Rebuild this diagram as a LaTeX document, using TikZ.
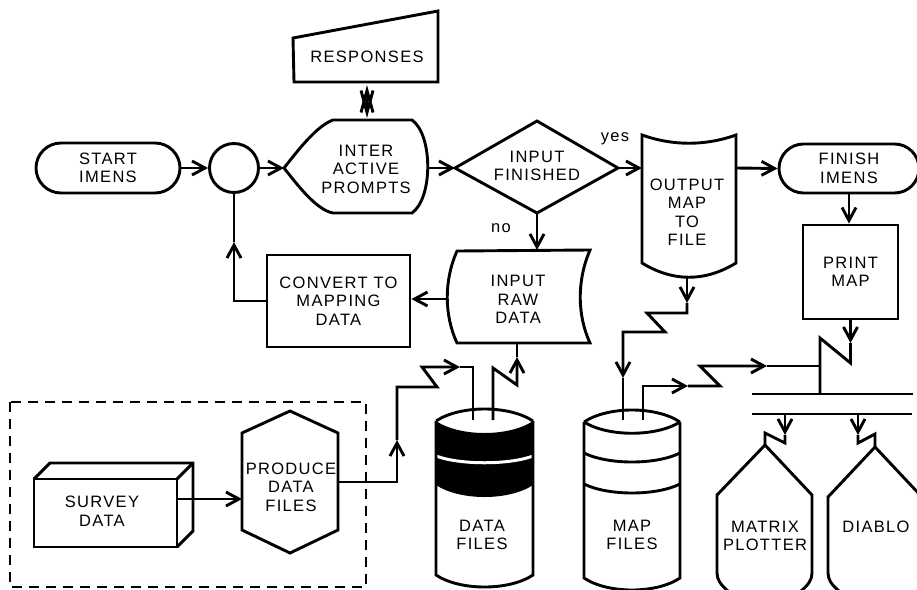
\documentclass[tikz,border=0pt]{standalone}
\usepackage{fontspec}
\setmainfont{Liberation Sans}[LetterSpace=8]
\usetikzlibrary{arrows.meta,shapes.misc}
\begin{document}
\begin{tikzpicture}[x=1pt,y=-1pt,line width=2.9pt,line join=miter,
  every node/.style={inner sep=0pt},
  lbl/.style={align=center,font=\fontsize{16.5}{18.5}\selectfont},
  arr/.style={-{Straight Barb[length=13pt,width=14pt]}},
  dbl/.style={{Straight Barb[length=22pt,width=12pt]}-{Straight Barb[length=22pt,width=12pt]},shorten <=3pt,shorten >=2pt},
  term/.style={draw,rounded rectangle,lbl},
  procbox/.style={draw,rectangle,lbl}]
\useasboundingbox (0,0) rectangle (917,589);

% ---------- terminals, circle, boxes
\node[term,minimum width=144pt,minimum height=50pt] (start) at (108,168) {START\\IMENS};
\node[draw,circle,minimum size=49pt] (circ) at (234,168) {};
\node[term,minimum width=140pt,minimum height=49pt] (finish) at (849,168.5) {FINISH\\IMENS};
\node[procbox,minimum width=95pt,minimum height=94pt] (printbox) at (850.5,272) {PRINT\\MAP};
\node[procbox,minimum width=143pt,minimum height=92pt] (convert) at (338.5,301) {CONVERT TO\\MAPPING\\DATA};

% ---------- responses (manual input)
\draw (294,82) -- (293,38) -- (438,11) -- (438,82) -- cycle;
\node[lbl] (resp) at (367,57) {RESPONSES};
\coordinate (resp-s) at (367,82);

% ---------- interactive prompts (display)
\draw (412,120) .. controls (433,135) and (433,198) .. (412,213) -- (333,213)
      .. controls (316,210) and (296,183) .. (284,168)
      .. controls (296,153) and (316,126) .. (333,120) -- cycle;
\node[lbl] (inter) at (366,169) {INTER\\ACTIVE\\PROMPTS};
\coordinate (inter-w) at (284,168);
\coordinate (inter-e) at (428,168);
\coordinate (inter-n) at (367,120);

% ---------- decision
\draw (455,168) -- (537,121) -- (618,168) -- (537,213) -- cycle;
\node[lbl] (dia) at (537,166) {INPUT\\FINISHED};
\coordinate (dia-w) at (455,168);
\coordinate (dia-e) at (618,168);
\coordinate (dia-s) at (537,213);
\node[lbl] (yes) at (615,139) {yes};
\node[lbl] (no) at (501,228) {no};

% ---------- output map to file (tape)
\draw (642,135) .. controls (673,146) and (705,146) .. (736,135) -- (736,263)
      .. controls (705,282) and (673,282) .. (642,263) -- cycle;
\node[lbl] (out) at (687,212) {OUTPUT\\MAP\\TO\\FILE};
\coordinate (out-w) at (642,168);
\coordinate (out-e) at (736,168);
\coordinate (out-s) at (687,277);

% ---------- input raw data (stored data)
\draw (457,343) .. controls (444,315) and (444,280) .. (457,251) -- (590,250)
      .. controls (577,280) and (577,315) .. (590,343) -- cycle;
\node[lbl] (raw) at (518,299.5) {INPUT\\RAW\\DATA};
\coordinate (raw-n) at (537,250);
\coordinate (raw-w) at (447,299);
\coordinate (raw-s) at (517,343);

% ---------- dashed group
\draw[dash pattern=on 10pt off 7pt,line width=2.5pt] (10,402) rectangle (366,587);

% ---------- survey data (3D box)
\draw (34,479) rectangle (177,547);
\draw (34,479) -- (50,463) -- (193,463) -- (193,531) -- (177,547);
\draw (177,479) -- (193,463);
\node[lbl] (survey) at (102,511) {SURVEY\\DATA};
\coordinate (sv-e) at (177,499);

% ---------- produce data files (hexagon)
\draw (290,411) -- (338,433) -- (338,530) -- (290,553) -- (242,530) -- (242,433) -- cycle;
\node[lbl] (produce) at (291,487) {PRODUCE\\DATA\\FILES};
\coordinate (pr-w) at (242,499);
\coordinate (pr-e) at (338,482);

% ---------- data files cylinder
\fill (436,421) .. controls (460,437) and (509,437) .. (533,421) -- (533,485)
      .. controls (509,501) and (460,501) .. (436,485) -- cycle;
\draw[white,line width=3pt] (436,456) .. controls (460,465) and (509,465) .. (533,456);
\draw (436,421) -- (436,575) .. controls (460,591) and (509,591) .. (533,575) -- (533,421);
\draw (436,421) .. controls (460,405) and (509,405) .. (533,421);
\node[lbl] (datafiles) at (482,535) {DATA\\FILES};
\coordinate (df-a) at (473,420);
\coordinate (df-b) at (493,420);

% ---------- map files cylinder
\draw (584,422) -- (584,578) .. controls (608,594) and (656,594) .. (680,578) -- (680,422);
\draw (584,422) .. controls (608,406) and (656,406) .. (680,422);
\draw (584,422) .. controls (608,437) and (656,437) .. (680,422);
\draw (584,453) .. controls (608,465) and (656,465) .. (680,453);
\draw (584,484) .. controls (608,496) and (656,496) .. (680,484);
\node[lbl] (mapfiles) at (632,535) {MAP\\FILES};
\coordinate (mf-a) at (623,420);
\coordinate (mf-b) at (643,420);

% ---------- plotters
\draw (728,591) .. controls (721,585) and (717,580) .. (717,573) -- (717,495) -- (765,445)
      -- (812,495) -- (812,573) .. controls (812,580) and (808,585) .. (801,591);
\node[lbl] (matrix) at (765,536) {MATRIX\\PLOTTER};
\coordinate (mx-top) at (765,445);
\draw (839,591) .. controls (832,585) and (828,580) .. (828,573) -- (828,497) -- (875,447) -- (922,497);
\node[lbl] (diablo) at (876,527) {DIABLO};
\coordinate (db-top) at (875,447);

% ---------- bus
\coordinate (busA1) at (752,394); \coordinate (busA2) at (913,394);
\coordinate (busB1) at (752,414); \coordinate (busB2) at (912,414);
\draw (busA1) -- (busA2);
\draw (busB1) -- (busB2);

% ---------- connectors
\draw[arr] (start.east) -- (circ.west);
\draw[arr] (circ.east) -- (inter-w);
\draw[arr] (inter-e) -- (dia-w);
\draw[dbl] (resp-s) -- (inter-n);
\draw[arr] (dia-e) -- (out-w);
\draw[arr] (out-e) -- (finish.west);
\draw[arr] (finish.south) -- (finish.south |- printbox.north);
\draw[arr] (dia-s) -- (raw-n);
\draw[arr] (raw-w) -- (convert.east |- raw-w);

\coordinate (cv-m) at (234,242);
\draw[arr] (convert.west) -- (circ.south |- convert.west) -- (cv-m);
\draw (cv-m) -- (circ.south);

\draw[arr] (sv-e) -- (pr-w);

\coordinate (p1) at (397,482); \coordinate (p1m) at (397,440);
\coordinate (p2) at (397,387); \coordinate (p3) at (437,387);
\coordinate (p4) at (422,367); \coordinate (p4m) at (460,367);
\coordinate (p5) at (473,367);
\draw[arr] (pr-e) -- (p1) -- (p1m);
\draw[arr] (p1m) -- (p2) -- (p3) -- (p4) -- (p4m);
\draw (p4m) -- (p5) -- (df-a);

\coordinate (q1) at (493,368); \coordinate (q2) at (517,385); \coordinate (qm) at (517,357);
\draw[arr] (df-b) -- (q1) -- (q2) -- (qm);
\draw (qm) -- (raw-s);

\coordinate (r0m) at (687,303); \coordinate (r1) at (687,313);
\coordinate (r2) at (647,313); \coordinate (r3) at (665,332);
\coordinate (r4) at (623,332); \coordinate (r4m) at (623,378);
\draw[arr] (out-s) -- (r0m);
\draw[arr] (r0m) -- (r1) -- (r2) -- (r3) -- (r4) -- (r4m);
\draw (r4m) -- (mf-a);

\coordinate (s1) at (643,386); \coordinate (s1m) at (688,386);
\coordinate (s2) at (720,386); \coordinate (s3) at (700,366);
\coordinate (s3m) at (767,366); \coordinate (s4) at (820,366);
\draw[arr] (mf-b) -- (s1) -- (s1m);
\draw[arr] (s1m) -- (s2) -- (s3) -- (s3m);
\draw (s3m) -- (s4);

\coordinate (t1m) at (850.5,343); \coordinate (t1) at (850.5,363);
\coordinate (t2) at (820,338); \coordinate (t3) at (820,394);
\draw[arr] (printbox.south) -- (t1m);
\draw (t1m) -- (t1) -- (t2) -- (t3);

\coordinate (u0) at (785,414); \coordinate (u0m) at (785,435);
\coordinate (u1) at (785,443); \coordinate (u2) at (765,433);
\draw[arr] (u0) -- (u0m);
\draw (u0m) -- (u1) -- (u2) -- (mx-top);

\coordinate (v0) at (858,414); \coordinate (v0m) at (858,435);
\coordinate (v1) at (858,443); \coordinate (v2) at (875,434);
\draw[arr] (v0) -- (v0m);
\draw (v0m) -- (v1) -- (v2) -- (db-top);
\end{tikzpicture}
\end{document}
